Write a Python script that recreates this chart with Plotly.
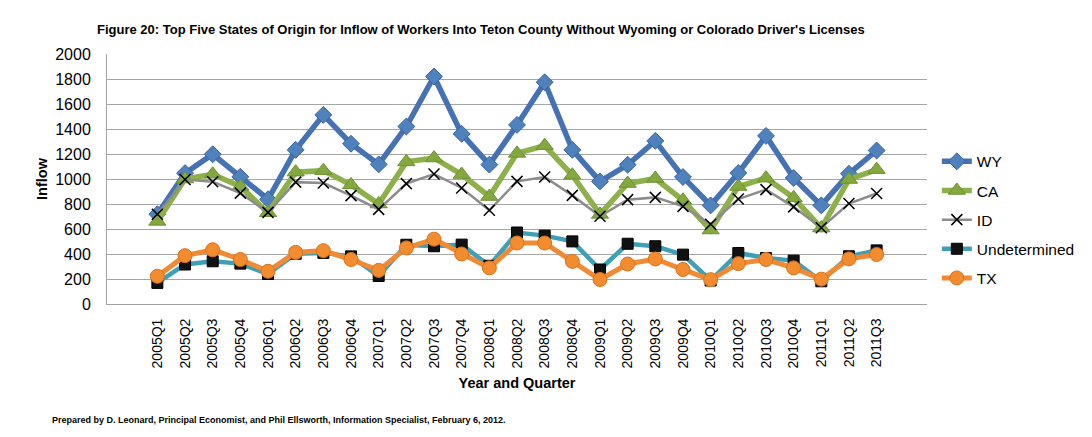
import plotly.graph_objects as go

quarters = ["2005Q1","2005Q2","2005Q3","2005Q4","2006Q1","2006Q2","2006Q3","2006Q4",
            "2007Q1","2007Q2","2007Q3","2007Q4","2008Q1","2008Q2","2008Q3","2008Q4",
            "2009Q1","2009Q2","2009Q3","2009Q4","2010Q1","2010Q2","2010Q3","2010Q4",
            "2011Q1","2011Q2","2011Q3"]

wy = [718, 1047, 1198, 1018, 838, 1233, 1513, 1282, 1117, 1420, 1820, 1361, 1115, 1433,
      1774, 1233, 981, 1114, 1305, 1016, 789, 1048, 1345, 1008, 789, 1042, 1228]
ca = [661, 1000, 1038, 940, 730, 1055, 1067, 953, 800, 1137, 1168, 1036, 860, 1205,
      1267, 1030, 717, 964, 1004, 830, 592, 940, 1007, 849, 608, 996, 1075]
id_ = [718, 996, 978, 887, 733, 975, 968, 867, 757, 963, 1040, 928, 750, 981,
       1016, 869, 702, 835, 853, 781, 638, 840, 915, 777, 610, 804, 884]
und = [169, 316, 342, 323, 240, 402, 409, 381, 224, 474, 462, 475, 306, 572,
       547, 501, 276, 482, 462, 395, 188, 408, 368, 347, 182, 382, 429]
tx = [222, 387, 434, 356, 262, 413, 427, 356, 269, 449, 519, 400, 289, 488,
      488, 341, 196, 320, 360, 276, 195, 323, 356, 289, 199, 361, 396]

y_ticks = [0, 200, 400, 600, 800, 1000, 1200, 1400, 1600, 1800, 2000]

series = [
    ("WY", wy, dict(color="#4472B4", width=5.5),
     dict(symbol="diamond", size=13, color="#4F81BD", line=dict(color="#3A65A0", width=1))),
    ("CA", ca, dict(color="#8DB04A", width=5.5),
     dict(symbol="triangle-up", size=15, color="#82A83E", line=dict(color="#6E9133", width=1))),
    ("ID", id_, dict(color="#8C8C8C", width=2.5),
     dict(symbol="x-thin", size=11, color="#000000", line=dict(color="#000000", width=1.5))),
    ("Undetermined", und, dict(color="#3DA0B8", width=4.5),
     dict(symbol="square", size=11, color="#111111", line=dict(color="#000000", width=1))),
    ("TX", tx, dict(color="#F08A35", width=5),
     dict(symbol="circle", size=14, color="#F28C2E", line=dict(color="#D9731C", width=1))),
]

fig = go.Figure()
for i, (name, vals, line, marker) in enumerate(series):
    fig.add_trace(go.Scatter(x=quarters, y=vals, name=name, mode="lines+markers",
                             line=line, marker=marker, legendgroup=f"g{i}"))

axis_font = "Liberation Sans, Arial, sans-serif"

fig.update_layout(
    width=1092, height=437,
    margin=dict(l=107, r=160, t=54, b=133),
    paper_bgcolor="white", plot_bgcolor="white",
    font=dict(family=axis_font, color="#000000"),
    title=dict(text="<b>Figure 20: Top Five States of Origin for Inflow of Workers Into Teton County Without Wyoming or Colorado Driver's Licenses</b>",
               font=dict(size=13, family=axis_font, color="#000000"),
               xref="container", yref="container", x=97/1092, xanchor="left",
               y=1-29/437, yanchor="middle"),
    legend=dict(x=1.012, xanchor="left", y=0.337, yanchor="middle",
                font=dict(size=15.5, family=axis_font), tracegroupgap=6,
                bgcolor="rgba(0,0,0,0)"),
    showlegend=True,
)

fig.update_xaxes(
    type="category", tickangle=-90, tickfont=dict(size=14, family=axis_font),
    showline=True, linecolor="#A0A0A0", linewidth=1, showgrid=False,
    ticks="", ticklabelstandoff=8,
    title=dict(text="<b>Year and Quarter</b>", font=dict(size=14.5, family=axis_font), standoff=10),
)
fig.update_yaxes(
    range=[0, 2000], tickvals=y_ticks, ticktext=[str(v) for v in y_ticks],
    tickfont=dict(size=16, family=axis_font),
    showline=True, linecolor="#A0A0A0", linewidth=1,
    showgrid=True, gridcolor="#A6A6A6", gridwidth=1, zeroline=False,
    ticks="", ticklabelstandoff=12,
    title=dict(text="<b>Inflow</b>", font=dict(size=14.5, family=axis_font), standoff=4),
)

fig.add_annotation(
    text="<b>Prepared by D. Leonard, Principal Economist, and Phil Ellsworth, Information Specialist, February 6, 2012.</b>",
    xref="paper", yref="paper", x=(50-107)/825, y=(304-420)/250,
    xanchor="left", yanchor="middle", showarrow=False,
    font=dict(size=9, family=axis_font, color="#000000"),
)

fig.write_html("out.html")
